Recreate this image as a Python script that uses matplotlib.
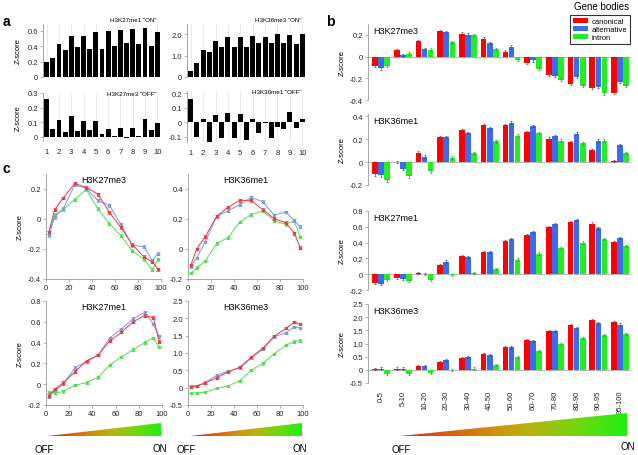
import numpy as np
import matplotlib
matplotlib.use('Agg')
import matplotlib.pyplot as plt
from matplotlib.colors import LinearSegmentedColormap
from matplotlib.patches import Polygon
from matplotlib.ticker import FuncFormatter

plt.rcParams['font.family'] = ['Liberation Sans', 'DejaVu Sans']

W, H = 638, 456

# ---- panel a : 19 windows from 1 to 10 ----
a_pos = np.arange(1, 10.01, 0.5)
a_k27me1_on = [0.19, 0.25, 0.43, 0.35, 0.54, 0.39, 0.53, 0.36, 0.59, 0.37,
               0.60, 0.41, 0.61, 0.44, 0.63, 0.43, 0.64, 0.41, 0.58]
a_k27me3_off = [0.26, 0.055, 0.115, 0.03, 0.14, 0.04, 0.105, 0.045, 0.11, 0.02,
                0.055, 0.003, 0.06, -0.01, 0.06, 0.005, 0.12, 0.045, 0.095]
a_k36me3_on = [0.3, 0.65, 1.28, 1.15, 1.7, 1.38, 1.85, 1.4, 1.85, 1.4,
               1.9, 1.6, 1.87, 1.58, 2.0, 1.6, 1.97, 1.53, 2.0]
a_k36me1_off = [0.16, -0.1, 0.02, -0.14, 0.048, -0.105, 0.066, -0.105, 0.06, -0.12,
                0.02, -0.075, -0.005, -0.107, -0.03, -0.043, 0.073, -0.04, 0.02]

# ---- panels b / c : expression bins ----
bins = ['0-5', '5-10', '10-20', '20-30', '30-40', '40-50', '50-60',
        '60-70', '70-80', '80-90', '90-95', '95-100']
bin_mid = [2.5, 7.5, 15, 25, 35, 45, 55, 65, 75, 85, 92.5, 97.5]

k27me3_can = [-0.088, 0.062, 0.14, 0.237, 0.21, 0.166, 0.046, -0.055, -0.17, -0.252, -0.286, -0.335]
k27me3_alt = [-0.108, 0.012, 0.068, 0.228, 0.203, 0.126, 0.092, -0.034, -0.175, -0.185, -0.277, -0.23]
k27me3_int = [-0.088, 0.028, 0.065, 0.13, 0.197, 0.07, -0.03, -0.11, -0.212, -0.268, -0.338, -0.268]

k36me1_can = [-0.108, 0.0, 0.083, 0.218, 0.28, 0.324, 0.324, 0.262, 0.203, 0.174, 0.106, 0.01]
k36me1_alt = [-0.117, -0.06, 0.047, 0.22, 0.255, 0.295, 0.344, 0.315, 0.226, 0.247, 0.188, 0.15]
k36me1_int = [-0.16, -0.125, -0.08, 0.038, 0.076, 0.18, 0.23, 0.253, 0.188, 0.165, 0.188, 0.08]

k27me1_can = [-0.11, -0.05, 0.015, 0.12, 0.225, 0.28, 0.415, 0.5, 0.6, 0.66, 0.64, 0.41]
k27me1_alt = [-0.125, -0.06, 0.0, 0.16, 0.215, 0.28, 0.445, 0.53, 0.63, 0.69, 0.58, 0.46]
k27me1_int = [-0.075, -0.085, -0.07, -0.01, 0.015, 0.065, 0.185, 0.262, 0.333, 0.4, 0.445, 0.36]

k36me3_can = [0.02, 0.05, 0.13, 0.29, 0.46, 0.59, 0.875, 1.14, 1.48, 1.71, 1.89, 1.83]
k36me3_alt = [0.05, 0.05, 0.15, 0.36, 0.475, 0.56, 0.85, 1.11, 1.47, 1.58, 1.76, 1.72]
k36me3_int = [-0.16, -0.15, -0.13, -0.02, 0.05, 0.2, 0.5, 0.7, 0.98, 1.22, 1.33, 1.36]

marks = ['H3K27me3', 'H3K36me1', 'H3K27me1', 'H3K36me3']
mark_data = {
    'H3K27me3': (k27me3_can, k27me3_alt, k27me3_int),
    'H3K36me1': (k36me1_can, k36me1_alt, k36me1_int),
    'H3K27me1': (k27me1_can, k27me1_alt, k27me1_int),
    'H3K36me3': (k36me3_can, k36me3_alt, k36me3_int),
}
mark_err = {'H3K27me3': 0.012, 'H3K36me1': 0.012, 'H3K27me1': 0.015, 'H3K36me3': 0.04}
series = ['canonical', 'alternative', 'intron']

bar_col = ['#ff0000', '#3a6cf0', '#22ee22']
err_col = ['#b03030', '#3050a0', '#30a030']
line_col = ['#ee3a3a', '#7a9ae6', '#55dd55']

fig = plt.figure(figsize=(6.38, 4.56), dpi=100)


def add_ax(l, t, r, b):
    return fig.add_axes([l / W, 1 - b / H, (r - l) / W, (b - t) / H])


def zfmt(v, pos):
    return '0' if abs(v) < 1e-9 else f'{v:.1f}'


def style(ax, bottom=False):
    for s in ['top', 'right']:
        ax.spines[s].set_visible(False)
    ax.spines['left'].set_color('#999999')
    ax.spines['left'].set_linewidth(0.6)
    ax.spines['bottom'].set_visible(bottom)
    ax.spines['bottom'].set_color('#999999')
    ax.spines['bottom'].set_linewidth(0.6)
    ax.tick_params(labelsize=5.5, length=2, width=0.5, pad=1.5,
                   colors='#999999', labelcolor='#222222')
    ax.yaxis.set_major_formatter(FuncFormatter(zfmt))


# ---------------- panel a ----------------
a_panels = [
    ((43, 25, 161, 78), a_k27me1_on, (0, 0.69), [0, 0.2, 0.4, 0.6], 'H3K27me1 "ON"', True, False),
    ((43, 94, 161, 142), a_k27me3_off, (-0.03, 0.3), [0, 0.1, 0.2, 0.3], 'H3K27me3 "OFF"', True, True),
    ((187, 25, 306, 78), a_k36me3_on, (0, 2.47), [0, 1.0, 2.0], 'H3K36me3 "ON"', False, False),
    ((187, 92, 306, 143), a_k36me1_off, (-0.135, 0.215), [-0.1, 0, 0.1, 0.2], 'H3K36me1 "OFF"', False, True),
]
for box, vals, ylim, yt, lab, left, bottom in a_panels:
    ax = add_ax(*box)
    style(ax)
    ax.bar(a_pos, vals, width=0.4, color='black', zorder=2)
    ax.set_xlim(0.7, 10.3)
    ax.set_ylim(*ylim)
    ax.set_yticks(yt)
    ax.set_xticks(range(1, 11))
    ax.grid(axis='x', color='#e2e2e2', lw=0.5)
    ax.set_axisbelow(True)
    ax.tick_params(axis='x', length=0, pad=5)
    if not bottom:
        ax.set_xticklabels([])
        ax.text(0.965, 1.03, lab, transform=ax.transAxes, ha='right', va='bottom', fontsize=4.5)
    else:
        ax.text(0.965, 0.99, lab, transform=ax.transAxes, ha='right', va='center', fontsize=4.5)
    if left:
        ax.set_ylabel('Z-score', fontsize=5.5, labelpad=4)

# ---------------- panel b ----------------
b_boxes = {
    'H3K27me3': ((368, 25, 631, 101), (-0.4, 0.3), [-0.4, -0.2, 0, 0.2]),
    'H3K36me1': ((368, 115, 631, 186), (-0.2, 0.42), [-0.2, 0, 0.2, 0.4]),
    'H3K27me1': ((368, 212, 631, 291), (-0.2, 0.8), [-0.2, 0, 0.2, 0.4, 0.6, 0.8]),
    'H3K36me3': ((368, 305, 631, 384), (-0.5, 2.5), [-0.5, 0, 0.5, 1.0, 1.5, 2.0, 2.5]),
}
b_x = np.arange(len(bins))
for m in marks:
    box, ylim, yt = b_boxes[m]
    ax = add_ax(*box)
    style(ax)
    for j, vals in enumerate(mark_data[m]):
        ax.bar(b_x + (j - 1) * 0.28, vals, width=0.26, color=bar_col[j],
               label=series[j], zorder=2)
        ax.errorbar(b_x + (j - 1) * 0.28, vals, yerr=mark_err[m], fmt='none',
                    ecolor=err_col[j], elinewidth=0.5, capsize=1, capthick=0.5, zorder=3)
    ax.axhline(0, color='#aaaaaa', lw=0.6, zorder=1)
    ax.set_xlim(-0.6, 11.5)
    ax.set_ylim(*ylim)
    ax.set_yticks(yt)
    ax.set_ylabel('Z-score', fontsize=5.5, labelpad=3)
    ax.text(0.02, 0.97, m, transform=ax.transAxes, ha='left', va='top', fontsize=6.5)
    if m == 'H3K36me3':
        ax.set_xticks(b_x)
        ax.set_xticklabels(bins, rotation=90, fontsize=5.5)
        ax.tick_params(axis='x', length=0, pad=5)
    else:
        ax.set_xticks([])
    if m == 'H3K27me3':
        handles, labels = ax.get_legend_handles_labels()

leg = fig.legend(handles, labels, loc='upper right', bbox_to_anchor=(0.993, 0.973),
                 fontsize=5.5, frameon=True, fancybox=False, handlelength=2.0,
                 handleheight=0.6, handletextpad=0.4, borderpad=0.35, labelspacing=0.15)
leg.get_frame().set_edgecolor('black')
leg.get_frame().set_linewidth(0.8)
fig.text(602 / W, 1 - 7 / H, 'Gene bodies', ha='center', va='center', fontsize=7)

# ---------------- panel c ----------------
c_boxes = {
    'H3K27me3': ((46, 175, 161, 280), (-0.4, 0.3), [-0.4, -0.2, 0, 0.2], True),
    'H3K36me1': ((188, 175, 303, 280), (-0.2, 0.5), [-0.2, 0, 0.2, 0.4], False),
    'H3K27me1': ((46, 302, 162, 406), (-0.2, 0.8), [-0.2, 0, 0.2, 0.4, 0.6, 0.8], True),
    'H3K36me3': ((188, 302, 303, 406), (-0.5, 2.5), [-0.5, 0, 0.5, 1.0, 1.5, 2.0, 2.5], False),
}
for m in marks:
    box, ylim, yt, left = c_boxes[m]
    ax = add_ax(*box)
    style(ax, bottom=True)
    for j in [2, 1, 0]:
        ax.errorbar(bin_mid, mark_data[m][j], yerr=mark_err[m] * 0.8, color=line_col[j],
                    lw=0.7, marker='s', ms=1.2, elinewidth=0.5, capsize=1.3, capthick=0.5)
    ax.set_xlim(0, 100)
    ax.set_ylim(*ylim)
    ax.set_yticks(yt)
    ax.set_xticks([0, 20, 40, 60, 80, 100])
    ax.text(0.5, 0.99, m, transform=ax.transAxes, ha='center', va='top', fontsize=6.5)
    if left:
        ax.set_ylabel('Z-score', fontsize=5.5, labelpad=3)

# ---------------- OFF -> ON gradients ----------------
grad = LinearSegmentedColormap.from_list(
    'offon', [(0.0, '#e0201c'), (0.2, '#e0580f'), (0.45, '#cc9a0c'),
              (0.6, '#b0b80c'), (0.8, '#6ada10'), (1.0, '#1ef010')])


def triangle(l, t, r, b):
    ax = add_ax(l, t, r, b)
    ax.set_xlim(0, 1)
    ax.set_ylim(0, 1)
    ax.axis('off')
    im = ax.imshow(np.linspace(0, 1, 256)[None, :], cmap=grad, extent=[0, 1, 0, 1],
                   aspect='auto')
    tri = Polygon([(0, 0), (1, 0), (1, 1)], closed=True, facecolor='none',
                  edgecolor='none', transform=ax.transData)
    ax.add_patch(tri)
    im.set_clip_path(tri)


triangle(47, 424, 161, 437)
triangle(190, 424, 302, 437)
triangle(400, 414, 627, 437)

for x, y, s in [(44, 450, 'OFF'), (160, 449, 'ON'), (186, 450, 'OFF'), (300, 449, 'ON'),
                (401, 450, 'OFF'), (628, 447, 'ON')]:
    fig.text(x / W, 1 - y / H, s, ha='center', va='center', fontsize=7)

# panel letters
fig.text(6.5 / W, 1 - 22 / H, 'a', ha='center', va='center', fontsize=10, fontweight='bold')
fig.text(330 / W, 1 - 22 / H, 'b', ha='center', va='center', fontsize=10, fontweight='bold')
fig.text(6 / W, 1 - 169 / H, 'c', ha='center', va='center', fontsize=10, fontweight='bold')

fig.savefig('out.png', dpi=100)
